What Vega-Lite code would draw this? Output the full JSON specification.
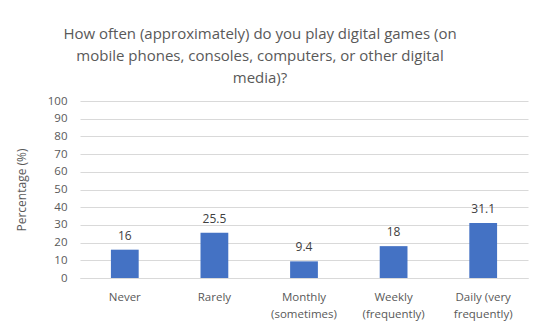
{
  "$schema": "https://vega.github.io/schema/vega-lite/v6.json",
  "width": 448,
  "height": 177,
  "autosize": {"type": "none"},
  "padding": {"left": 80, "top": 101, "right": 22, "bottom": 58},
  "background": "white",
  "title": {
    "text": ["How often (approximately) do you play digital games (on", "mobile phones, consoles, computers, or other digital", "media)?"],
    "font": "Open Sans",
    "fontSize": 15,
    "fontWeight": "normal",
    "color": "#595959",
    "anchor": "middle",
    "lineHeight": 22,
    "dx": -44,
    "offset": 9
  },
  "data": {
    "values": [
      {"category": "Never", "value": 16},
      {"category": "Rarely", "value": 25.5},
      {"category": "Monthly (sometimes)", "value": 9.4},
      {"category": "Weekly (frequently)", "value": 18},
      {"category": "Daily (very frequently)", "value": 31.1}
    ]
  },
  "encoding": {
    "x": {
      "field": "category",
      "type": "nominal",
      "sort": null,
      "scale": {"paddingInner": 0.69, "paddingOuter": 0.345},
      "axis": {
        "title": null,
        "labelAngle": 0,
        "labelFont": "Open Sans",
        "labelFontSize": 11.5,
        "labelColor": "#595959",
        "labelPadding": 13,
        "labelLineHeight": 17,
        "ticks": false,
        "domainColor": "#d9d9d9",
        "labelExpr": "datum.label == 'Monthly (sometimes)' ? ['Monthly', '(sometimes)'] : datum.label == 'Weekly (frequently)' ? ['Weekly', '(frequently)'] : datum.label == 'Daily (very frequently)' ? ['Daily (very', 'frequently)'] : datum.label"
      }
    },
    "y": {
      "field": "value",
      "type": "quantitative",
      "scale": {"domain": [0, 100]},
      "axis": {
        "title": "Percentage (%)",
        "titleFont": "Open Sans",
        "titleFontSize": 12,
        "titleFontWeight": "normal",
        "titleColor": "#595959",
        "titlePadding": 19,
        "values": [0, 10, 20, 30, 40, 50, 60, 70, 80, 90, 100],
        "labelFont": "Open Sans",
        "labelFontSize": 11.5,
        "labelColor": "#595959",
        "labelPadding": 13,
        "ticks": false,
        "domain": false,
        "gridColor": "#d9d9d9"
      }
    }
  },
  "layer": [
    {"mark": {"type": "bar", "color": "#4472C4"}},
    {
      "mark": {"type": "text", "baseline": "bottom", "dy": -7, "font": "Open Sans", "fontSize": 12, "color": "#404040"},
      "encoding": {"text": {"field": "value", "type": "quantitative"}}
    }
  ],
  "config": {"view": {"stroke": null}}
}
